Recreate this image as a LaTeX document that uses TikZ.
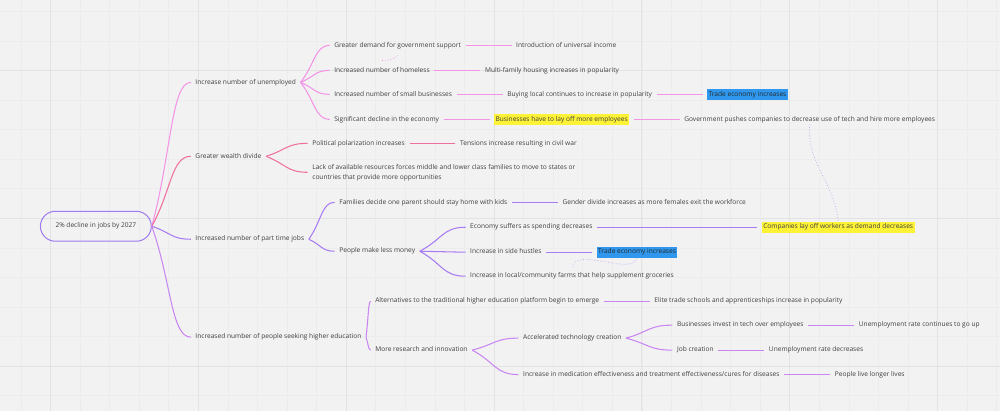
\documentclass[tikz,border=0pt]{standalone}
\usepackage{fontspec}
\setmainfont{Open Sans}
\usepackage{xcolor}
\usepackage{tikz}
\usetikzlibrary{positioning, calc}

\definecolor{bgcol}{HTML}{F2F2F2}
\definecolor{gridminor}{HTML}{ECECEC}
\definecolor{gridmajor}{HTML}{E3E3E3}
\definecolor{txtcol}{HTML}{404040}
\definecolor{rootcol}{HTML}{9F7AF0}
\definecolor{unempcol}{HTML}{F394E6}
\definecolor{wealthcol}{HTML}{EF6FA0}
\definecolor{partcol}{HTML}{A77BF2}
\definecolor{highcol}{HTML}{C986F3}
\definecolor{dotcol}{HTML}{C4ABF2}
\definecolor{hiyellow}{HTML}{FDF235}
\definecolor{hiblue}{HTML}{2F98EE}

\begin{document}
\begin{tikzpicture}[
  x=1pt, y=-1pt,
  node distance=46pt,
  item/.style={font=\fontsize{6.6}{8}\selectfont, text=txtcol, inner xsep=4.5pt, inner ysep=1.5pt, text height=5pt, text depth=1.5pt, anchor=west},
  hiy/.style={item, fill=hiyellow, inner xsep=1.5pt, inner ysep=2.2pt, outer xsep=4.5pt},
  hib/.style={item, fill=hiblue, text=black!85, inner xsep=1.5pt, inner ysep=2.2pt, outer xsep=4.5pt},
  rootbox/.style={draw=rootcol, line width=1pt, rounded corners=15pt, minimum width=111pt, minimum height=30pt, font=\fontsize{6.6}{8}\selectfont, text=txtcol},
  curvy/.style={to path={.. controls ($(\tikztostart)!0.5!(\tikztotarget)$) and ($(\tikztotarget)!0.5!(\tikztostart |- \tikztotarget)$) .. (\tikztotarget)}},
  lnk/.style={line width=1.05pt},
  dots/.style={dotted, line width=0.8pt, dotcol}
]

% canvas and grid
\fill[bgcol] (0,0) rectangle (1000,411);
\foreach \i in {-1,...,32}
  \draw[gridminor, line width=0.6pt] ({50+29.6*\i},0) -- ({50+29.6*\i},411);
\foreach \j in {-2,...,11}
  \draw[gridminor, line width=0.6pt] (0,{70+29.6*\j}) -- (1000,{70+29.6*\j});
\foreach \k in {0,...,6}
  \draw[gridmajor, line width=0.9pt] ({50+148*\k},0) -- ({50+148*\k},411);
\foreach \k in {0,...,2}
  \draw[gridmajor, line width=0.9pt] (0,{70+148*\k}) -- (1000,{70+148*\k});
\useasboundingbox (0,0) rectangle (1000,411);

\node[rootbox] (root) at (95.5,226) {2\% decline in jobs by 2027};

% first level
\node[item] (unemp) at (190.5,82) {Increase number of unemployed};
\node[item] (wealth) at (190.5,156) {Greater wealth divide};
\node[item] (part) at (190.5,239) {Increased number of part time jobs};
\node[item] (higher) at (190.5,337) {Increased number of people seeking higher education};

% unemployed
\node[item] (govsup) at (329.5,45) {Greater demand for government support};
\node[item] (homeless) at (329.5,70) {Increased number of homeless};
\node[item] (smallbiz) at (329.5,94) {Increased number of small businesses};
\node[item] (decline) at (329.5,119) {Significant decline in the economy};
\node[item, right=of govsup] (intro) {Introduction of universal income};
\node[item, right=of homeless] (multifam) {Multi-family housing increases in popularity};
\node[item, right=of smallbiz] (buylocal) {Buying local continues to increase in popularity};
\node[hib, right=of buylocal] (trade1) {Trade economy increases};
\node[hiy, right=of decline] (layoff) {Businesses have to lay off more employees};
\node[item, right=of layoff] (gov) {Government pushes companies to decrease use of tech and hire more employees};

% wealth divide
\node[item] (polar) at (307.5,143) {Political polarization increases};
\node[item, align=left, text height={}, text depth={}, font=\fontsize{6.6}{10}\selectfont] (lack) at (307.5,172)
  {Lack of available resources forces middle and lower class families to move to states or\\countries that provide more opportunities};
\node[item, right=of polar] (tensions) {Tensions increase resulting in civil war};

% part time jobs
\node[item] (family) at (334.5,202) {Families decide one parent should stay home with kids};
\node[item] (less) at (334.5,251) {People make less money};
\node[item, right=of family] (gender) {Gender divide increases as more females exit the workforce};
\node[item] (suffer) at (465.5,227) {Economy suffers as spending decreases};
\node[item] (hustle) at (465.5,252) {Increase in side hustles};
\node[item] (farms) at (465.5,276) {Increase in local/community farms that help supplement groceries};
\node[hiy] (companies) at (757.5,227) {Companies lay off workers as demand decreases};
\node[hib, right=of hustle] (trade2) {Trade economy increases};

% higher education
\node[item] (altern) at (370.5,301) {Alternatives to the traditional higher education platform begin to emerge};
\node[item] (research) at (370.5,350) {More research and innovation};
\node[item, right=of altern] (elite) {Elite trade schools and apprenticeships increase in popularity};
\node[item] (accel) at (518.5,338) {Accelerated technology creation};
\node[item] (medic) at (518.5,374.5) {Increase in medication effectiveness and treatment effectiveness/cures for diseases};
\node[item] (invest) at (672.5,325) {Businesses invest in tech over employees};
\node[item] (jobcr) at (672.5,350) {Job creation};
\node[item, right=of invest] (upcont) {Unemployment rate continues to go up};
\node[item, right=of jobcr] (ratedec) {Unemployment rate decreases};
\node[item, right=of medic] (longer) {People live longer lives};

% connectors
\draw[lnk, unempcol] (root.east) to[curvy] (unemp.west);
\draw[lnk, wealthcol] (root.east) to[curvy] (wealth.west);
\draw[lnk, partcol] (root.east) to[curvy] (part.west);
\draw[lnk, highcol] (root.east) to[curvy] (higher.west);

\draw[lnk, unempcol] (unemp.east) to[curvy] (govsup.west);
\draw[lnk, unempcol] (unemp.east) to[curvy] (homeless.west);
\draw[lnk, unempcol] (unemp.east) to[curvy] (smallbiz.west);
\draw[lnk, unempcol] (unemp.east) to[curvy] (decline.west);
\draw[lnk, unempcol] (govsup.east) -- (intro.west);
\draw[lnk, unempcol] (homeless.east) -- (multifam.west);
\draw[lnk, unempcol] (smallbiz.east) -- (buylocal.west);
\draw[lnk, unempcol] (buylocal.east) -- (trade1.west);
\draw[lnk, unempcol] (decline.east) -- (layoff.west);
\draw[lnk, unempcol] (layoff.east) -- (gov.west);

\draw[lnk, wealthcol] (wealth.east) to[curvy] (polar.west);
\draw[lnk, wealthcol] (wealth.east) to[curvy] (lack.west);
\draw[lnk, wealthcol] (polar.east) -- (tensions.west);

\draw[lnk, partcol] (part.east) to[curvy] (family.west);
\draw[lnk, partcol] (part.east) to[curvy] (less.west);
\draw[lnk, partcol] (family.east) -- (gender.west);
\draw[lnk, partcol] (less.east) to[curvy] (suffer.west);
\draw[lnk, partcol] (less.east) to[curvy] (hustle.west);
\draw[lnk, partcol] (less.east) to[curvy] (farms.west);
\draw[lnk, partcol] (suffer.east) -- (companies.west);
\draw[lnk, partcol] (hustle.east) -- (trade2.west);

\draw[lnk, highcol] (higher.east) to[curvy] (altern.west);
\draw[lnk, highcol] (higher.east) to[curvy] (research.west);
\draw[lnk, highcol] (altern.east) -- (elite.west);
\draw[lnk, highcol] (research.east) to[curvy] (accel.west);
\draw[lnk, highcol] (research.east) to[curvy] (medic.west);
\draw[lnk, highcol] (accel.east) to[curvy] (invest.west);
\draw[lnk, highcol] (accel.east) to[curvy] (jobcr.west);
\draw[lnk, highcol] (invest.east) -- (upcont.west);
\draw[lnk, highcol] (jobcr.east) -- (ratedec.west);
\draw[lnk, highcol] (medic.east) -- (longer.west);

% loose dotted strokes
\draw[dots] (gov.south) to[out=-95, in=95] (companies.north);
\coordinate (hookstart) at (573,267);
\draw[dots] (hookstart) .. controls (574,260) and (580,258) .. (595,260)
  .. controls (609,261) and (633,270) .. (trade2.south);
\coordinate (pinka) at (382,60);
\coordinate (pinkb) at (398,55);
\draw[dots, unempcol] (pinka) to[bend right=20] (pinkb);

\end{tikzpicture}
\end{document}
